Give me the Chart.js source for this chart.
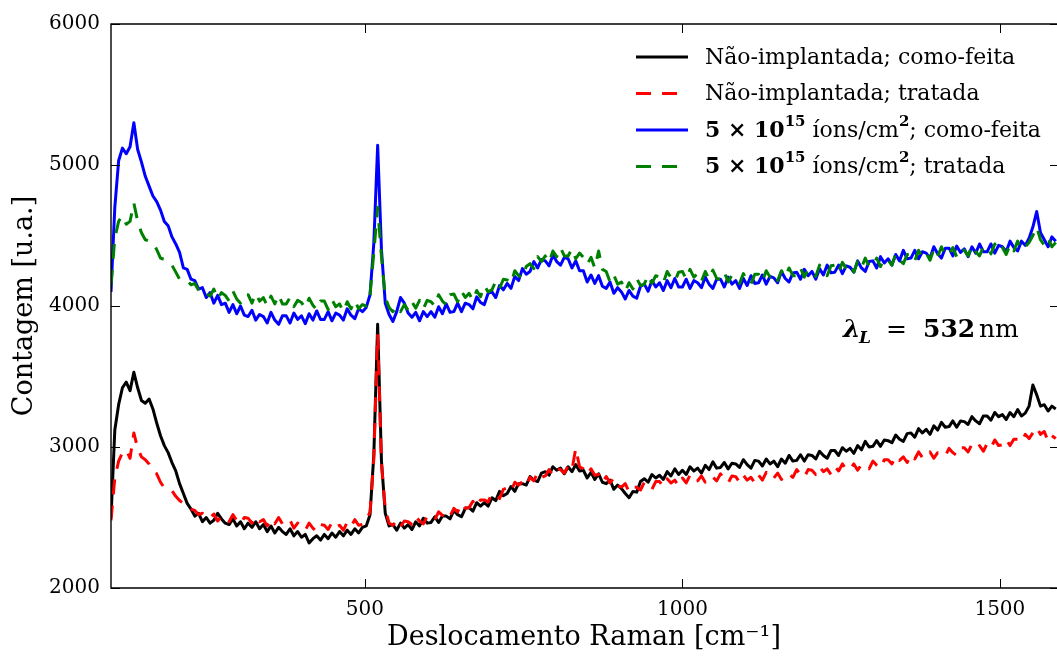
<!DOCTYPE html>
<html lang="pt">
<head>
<meta charset="utf-8">
<title>Espectros Raman</title>
<script src="https://cdn.jsdelivr.net/npm/chart.js@4.4.1/dist/chart.umd.min.js"></script>
<style>
  html, body { margin: 0; padding: 0; background: #fff; }
  canvas { display: block; }
</style>
</head>
<body>
<canvas id="ramanChart" width="1057" height="657"></canvas>
<script>
// Raman shift axis (cm^-1)
const shift = [
  100,106,112,118,124,130,136,142,148,154,
  160,166,172,178,184,190,196,202,208,214,
  220,226,232,238,244,250,256,262,268,274,
  280,286,292,298,304,310,316,322,328,334,
  340,346,352,358,364,370,376,382,388,394,
  400,406,412,418,424,430,436,442,448,454,
  460,466,472,478,484,490,496,502,508,514,
  520,526,532,538,544,550,556,562,568,574,
  580,586,592,598,604,610,616,622,628,634,
  640,646,652,658,664,670,676,682,688,694,
  700,706,712,718,724,730,736,742,748,754,
  760,766,772,778,784,790,796,802,808,814,
  820,826,832,838,844,850,856,862,868,874,
  880,886,892,898,904,910,916,922,928,934,
  940,946,952,958,964,970,976,982,988,994,
  1000,1006,1012,1018,1024,1030,1036,1042,1048,1054,
  1060,1066,1072,1078,1084,1090,1096,1102,1108,1114,
  1120,1126,1132,1138,1144,1150,1156,1162,1168,1174,
  1180,1186,1192,1198,1204,1210,1216,1222,1228,1234,
  1240,1246,1252,1258,1264,1270,1276,1282,1288,1294,
  1300,1306,1312,1318,1324,1330,1336,1342,1348,1354,
  1360,1366,1372,1378,1384,1390,1396,1402,1408,1414,
  1420,1426,1432,1438,1444,1450,1456,1462,1468,1474,
  1480,1486,1492,1498,1504,1510,1516,1522,1528,1534,
  1540,1546,1552,1558,1564,1570,1576,1582,1588
];

// Não-implantada; como-feita
const naoComoFeita = [
  2500,3120,3300,3420,3460,3400,3530,3420,3330,3310,
  3340,3270,3170,3080,3010,2960,2890,2830,2740,2670,
  2600,2560,2510,2530,2470,2500,2460,2480,2530,2490,
  2460,2450,2490,2440,2470,2420,2460,2430,2470,2420,
  2450,2400,2440,2390,2430,2400,2380,2420,2370,2400,
  2360,2380,2320,2350,2370,2340,2380,2350,2390,2360,
  2400,2370,2410,2380,2420,2390,2430,2440,2520,2950,
  3870,2900,2530,2440,2450,2410,2460,2425,2450,2415,
  2470,2440,2495,2460,2465,2505,2465,2510,2510,2490,
  2550,2520,2505,2565,2570,2545,2605,2580,2605,2580,
  2640,2620,2685,2655,2670,2720,2685,2740,2740,2730,
  2790,2765,2755,2815,2825,2800,2860,2835,2850,2810,
  2860,2825,2875,2830,2835,2780,2820,2770,2810,2750,
  2740,2765,2700,2730,2705,2670,2640,2685,2680,2755,
  2775,2750,2805,2780,2800,2770,2825,2795,2845,2805,
  2835,2805,2860,2830,2850,2815,2870,2840,2895,2850,
  2855,2890,2845,2885,2880,2855,2910,2875,2850,2905,
  2900,2865,2915,2880,2900,2860,2915,2885,2940,2900,
  2905,2945,2900,2945,2940,2915,2970,2940,2920,2975,
  2975,2940,2995,2970,2990,2955,3010,2980,3040,3000,
  3005,3045,3005,3050,3045,3030,3085,3055,3040,3095,
  3100,3070,3130,3100,3125,3090,3150,3120,3175,3140,
  3145,3185,3140,3185,3180,3160,3215,3185,3165,3220,
  3220,3190,3245,3215,3230,3195,3245,3215,3265,3220,
  3240,3290,3440,3370,3290,3300,3255,3290,3270
];

// Não-implantada; tratada
const naoTratada = [
  2480,2780,2900,2960,2980,2920,3100,2990,2930,2910,
  2880,2830,2810,2750,2710,2700,2690,2650,2620,2600,
  2580,2560,2550,2520,2530,2500,2495,2525,2475,2510,
  2500,2470,2520,2480,2455,2500,2495,2460,2505,2470,
  2485,2440,2490,2455,2500,2455,2450,2480,2425,2460,
  2445,2410,2460,2425,2400,2450,2445,2415,2465,2430,
  2445,2410,2465,2435,2485,2445,2450,2480,2540,2920,
  3800,2880,2560,2460,2445,2480,2435,2475,2470,2450,
  2505,2475,2455,2510,2510,2485,2540,2515,2540,2510,
  2565,2540,2600,2565,2570,2615,2575,2625,2625,2610,
  2670,2650,2635,2700,2710,2685,2750,2730,2755,2725,
  2785,2760,2820,2785,2795,2840,2800,2845,2840,2815,
  2865,2835,2990,2860,2845,2805,2845,2800,2805,2750,
  2790,2745,2780,2725,2715,2740,2680,2715,2715,2695,
  2750,2725,2700,2755,2755,2720,2775,2745,2765,2725,
  2780,2745,2800,2755,2760,2795,2750,2790,2785,2760,
  2810,2770,2745,2795,2790,2750,2800,2765,2785,2745,
  2800,2765,2820,2775,2780,2815,2770,2810,2805,2785,
  2840,2805,2785,2840,2835,2805,2860,2825,2845,2805,
  2860,2830,2880,2840,2840,2880,2835,2875,2870,2845,
  2900,2870,2850,2910,2910,2880,2935,2905,2930,2890,
  2945,2915,2965,2925,2925,2965,2920,2960,2955,2935,
  2990,2960,2940,2995,2995,2965,3020,2990,3010,2970,
  3025,2995,3050,3010,3015,3055,3010,3055,3055,3035,
  3090,3060,3100,3140,3090,3110,3040,3080,3060
];

// 5e15 íons/cm2; como-feita
const implComoFeita = [
  4100,4700,5030,5120,5080,5130,5300,5110,5020,4920,
  4850,4780,4740,4680,4600,4570,4490,4440,4380,4270,
  4260,4190,4180,4120,4130,4060,4095,4020,4075,4010,
  4020,3955,4010,3945,4000,3935,3925,3970,3900,3940,
  3925,3880,3955,3900,3870,3930,3930,3880,3950,3905,
  3930,3875,3945,3900,3965,3905,3905,3960,3895,3950,
  3935,3900,3980,3935,3910,3980,3960,3990,4080,4450,
  5140,4400,4020,3940,3890,3960,4060,4020,3950,3920,
  3955,3895,3960,3925,3960,3920,3995,3945,4015,3955,
  3960,4020,3960,4020,4010,3980,4065,4025,4010,4090,
  4100,4060,4145,4115,4160,4125,4210,4180,4265,4225,
  4245,4315,4270,4330,4320,4285,4360,4315,4290,4345,
  4335,4270,4320,4250,4250,4170,4220,4160,4215,4140,
  4125,4170,4090,4130,4100,4050,4110,4070,4055,4140,
  4155,4105,4180,4135,4165,4110,4180,4130,4195,4135,
  4135,4190,4125,4180,4165,4130,4205,4155,4125,4190,
  4190,4135,4205,4155,4180,4125,4195,4145,4215,4160,
  4165,4220,4155,4210,4200,4165,4245,4195,4170,4235,
  4240,4190,4260,4215,4245,4190,4265,4220,4290,4235,
  4240,4290,4230,4285,4275,4240,4320,4270,4245,4315,
  4320,4270,4350,4305,4335,4290,4365,4320,4395,4335,
  4340,4395,4335,4385,4375,4340,4420,4370,4340,4410,
  4410,4355,4425,4380,4405,4350,4420,4375,4440,4385,
  4385,4440,4375,4430,4420,4385,4460,4415,4390,4460,
  4430,4480,4560,4670,4520,4470,4420,4490,4460
];

// 5e15 íons/cm2; tratada
const implTratada = [
  4150,4480,4600,4640,4580,4600,4730,4600,4520,4470,
  4460,4450,4400,4340,4330,4300,4290,4240,4190,4190,
  4180,4150,4160,4110,4080,4090,4070,4120,4050,4095,
  4075,4035,4105,4050,4020,4080,4080,4020,4090,4035,
  4060,4000,4070,4015,4080,4015,4015,4060,3995,4040,
  4025,3985,4055,4005,3975,4035,4035,3975,4045,3995,
  4015,3960,4030,3980,4040,3980,4010,4000,4080,4380,
  4700,4350,4060,3990,3960,4000,3960,4010,3970,4030,
  3985,4040,3980,4040,4030,4000,4080,4035,4010,4080,
  4085,4030,4105,4060,4090,4040,4110,4065,4145,4100,
  4115,4175,4125,4190,4185,4160,4250,4215,4200,4280,
  4300,4265,4350,4315,4355,4310,4390,4350,4415,4355,
  4355,4405,4335,4375,4345,4295,4345,4270,4390,4260,
  4245,4170,4220,4155,4170,4105,4165,4120,4195,4145,
  4155,4220,4160,4215,4205,4165,4245,4200,4175,4240,
  4245,4190,4260,4205,4230,4175,4245,4190,4255,4195,
  4190,4240,4170,4220,4200,4160,4230,4180,4155,4225,
  4225,4175,4250,4205,4230,4180,4250,4205,4270,4215,
  4215,4270,4205,4260,4245,4210,4290,4245,4215,4285,
  4290,4240,4310,4265,4295,4240,4315,4270,4340,4280,
  4285,4340,4280,4335,4325,4290,4370,4325,4300,4365,
  4370,4320,4395,4345,4375,4325,4400,4350,4420,4360,
  4365,4415,4350,4405,4395,4355,4430,4385,4355,4420,
  4420,4370,4440,4390,4415,4365,4435,4390,4460,4400,
  4420,4450,4500,4560,4470,4430,4480,4420,4450
];

const xTickValues = [500, 1000, 1500];
const yTickValues = [2000, 3000, 4000, 5000, 6000];

const SERIF = '"DejaVu Serif", serif';
const DASH = [15, 11];

function points(ys) {
  return shift.map((x, i) => ({ x: x, y: ys[i] }));
}

// Legend entries; the implanted ones carry superscripts and bold math parts
const legendEntries = [
  { color: '#000000', dash: [], parts: [{ t: 'Não-implantada; como-feita' }] },
  { color: '#ff0000', dash: DASH, parts: [{ t: 'Não-implantada; tratada' }] },
  { color: '#0000ff', dash: [], parts: [
    { t: '5 × 10', b: true }, { t: '15', b: true, sup: true },
    { t: ' íons/cm' }, { t: '2', b: true, sup: true }, { t: '; como-feita' }
  ] },
  { color: '#008000', dash: DASH, parts: [
    { t: '5 × 10', b: true }, { t: '15', b: true, sup: true },
    { t: ' íons/cm' }, { t: '2', b: true, sup: true }, { t: '; tratada' }
  ] }
];

function fontFor(p, size) {
  const s = (p.sup || p.sub) ? Math.round(size * 0.68) : size;
  return (p.i ? 'italic ' : '') + (p.b ? 'bold ' : '') + s + 'px ' + SERIF;
}

function drawRich(ctx, x, y, parts, size) {
  parts.forEach(p => {
    ctx.font = fontFor(p, size);
    let dy = 0;
    if (p.sup) dy = -size * 0.42;
    if (p.sub) dy = size * 0.22;
    const px = (p.x !== undefined) ? p.x : x;
    ctx.fillText(p.t, px, y + dy);
    x = px + ctx.measureText(p.t).width + (p.gap || 0);
  });
}

// Frame (the right spine falls just outside the canvas) with inward ticks
const frameTicks = {
  id: 'frameTicks',
  afterDraw(chart) {
    const { ctx, chartArea: a, scales } = chart;
    const right = chart.width;
    ctx.save();
    ctx.strokeStyle = '#000';
    ctx.lineWidth = 1.4;
    ctx.beginPath();
    ctx.moveTo(right, a.top);
    ctx.lineTo(a.left, a.top);
    ctx.lineTo(a.left, a.bottom);
    ctx.lineTo(right, a.bottom);
    ctx.stroke();
    ctx.lineWidth = 1;
    const len = 9;
    ctx.beginPath();
    xTickValues.forEach(v => {
      const px = Math.round(scales.x.getPixelForValue(v)) + 0.5;
      ctx.moveTo(px, a.bottom); ctx.lineTo(px, a.bottom - len);
      ctx.moveTo(px, a.top); ctx.lineTo(px, a.top + len);
    });
    yTickValues.forEach(v => {
      const py = Math.round(scales.y.getPixelForValue(v)) + 0.5;
      ctx.moveTo(a.left, py); ctx.lineTo(a.left + len, py);
      ctx.moveTo(right + 2, py); ctx.lineTo(right + 2 - len, py);
    });
    ctx.stroke();
    ctx.restore();
  }
};

// Legend (no frame) and the laser wavelength note
const annotations = {
  id: 'annotations',
  afterDraw(chart) {
    const ctx = chart.ctx;
    ctx.save();
    ctx.fillStyle = '#000';
    ctx.textBaseline = 'middle';
    legendEntries.forEach((e, k) => {
      const y = 57 + k * 36.5;
      ctx.strokeStyle = e.color;
      ctx.lineWidth = 3;
      ctx.setLineDash(e.dash);
      ctx.beginPath();
      ctx.moveTo(636, y);
      ctx.lineTo(688, y);
      ctx.stroke();
      ctx.setLineDash([]);
      drawRich(ctx, 705, y + 1, e.parts, 22);
    });
    ctx.textBaseline = 'alphabetic';
    drawRich(ctx, 843, 337, [
      { t: 'λ', b: true, i: true, x: 843 },
      { t: 'L', b: true, i: true, sub: true, x: 859 },
      { t: '=', x: 886 },
      { t: '532', b: true, x: 923 },
      { t: 'nm', x: 979 }
    ], 25);
    ctx.restore();
  }
};

const lineStyle = {
  borderWidth: 3,
  pointRadius: 0,
  tension: 0,
  borderJoinStyle: 'round',
  fill: false
};

new Chart(document.getElementById('ramanChart'), {
  type: 'line',
  data: {
    datasets: [
      Object.assign({ label: 'Não-implantada; como-feita', data: points(naoComoFeita),
        borderColor: '#000000', order: 3 }, lineStyle),
      Object.assign({ label: 'Não-implantada; tratada', data: points(naoTratada),
        borderColor: '#ff0000', borderDash: DASH, order: 1 }, lineStyle),
      Object.assign({ label: '5 × 10¹⁵ íons/cm²; como-feita', data: points(implComoFeita),
        borderColor: '#0000ff', order: 2 }, lineStyle),
      Object.assign({ label: '5 × 10¹⁵ íons/cm²; tratada', data: points(implTratada),
        borderColor: '#008000', borderDash: DASH, order: 0 }, lineStyle)
    ]
  },
  options: {
    responsive: false,
    animation: false,
    events: [],
    layout: { padding: { left: 0, top: 24, right: -2, bottom: 0 } },
    plugins: {
      legend: { display: false },
      tooltip: { enabled: false }
    },
    scales: {
      x: {
        type: 'linear',
        min: 100,
        max: 1590,
        grid: { display: false, drawTicks: false },
        border: { display: false },
        afterBuildTicks: s => { s.ticks = xTickValues.map(v => ({ value: v })); },
        afterFit: s => { s.height = 69; },
        ticks: {
          color: '#000',
          padding: 10,
          maxRotation: 0,
          font: { family: SERIF, size: 20 },
          callback: v => String(v)
        },
        title: {
          display: true,
          text: 'Deslocamento Raman [cm⁻¹]',
          color: '#000',
          font: { family: SERIF, size: 27 },
          padding: { top: 0, bottom: 3 }
        }
      },
      y: {
        type: 'linear',
        min: 2000,
        max: 6000,
        grid: { display: false, drawTicks: false },
        border: { display: false },
        afterBuildTicks: s => { s.ticks = yTickValues.map(v => ({ value: v })); },
        afterFit: s => { s.width = 111; },
        ticks: {
          color: '#000',
          padding: 11,
          font: { family: SERIF, size: 20 },
          callback: v => String(v)
        },
        title: {
          display: true,
          text: 'Contagem [u.a.]',
          color: '#000',
          font: { family: SERIF, size: 27 },
          padding: { top: 9, bottom: 0 }
        }
      }
    }
  },
  plugins: [frameTicks, annotations]
});
</script>
</body>
</html>
